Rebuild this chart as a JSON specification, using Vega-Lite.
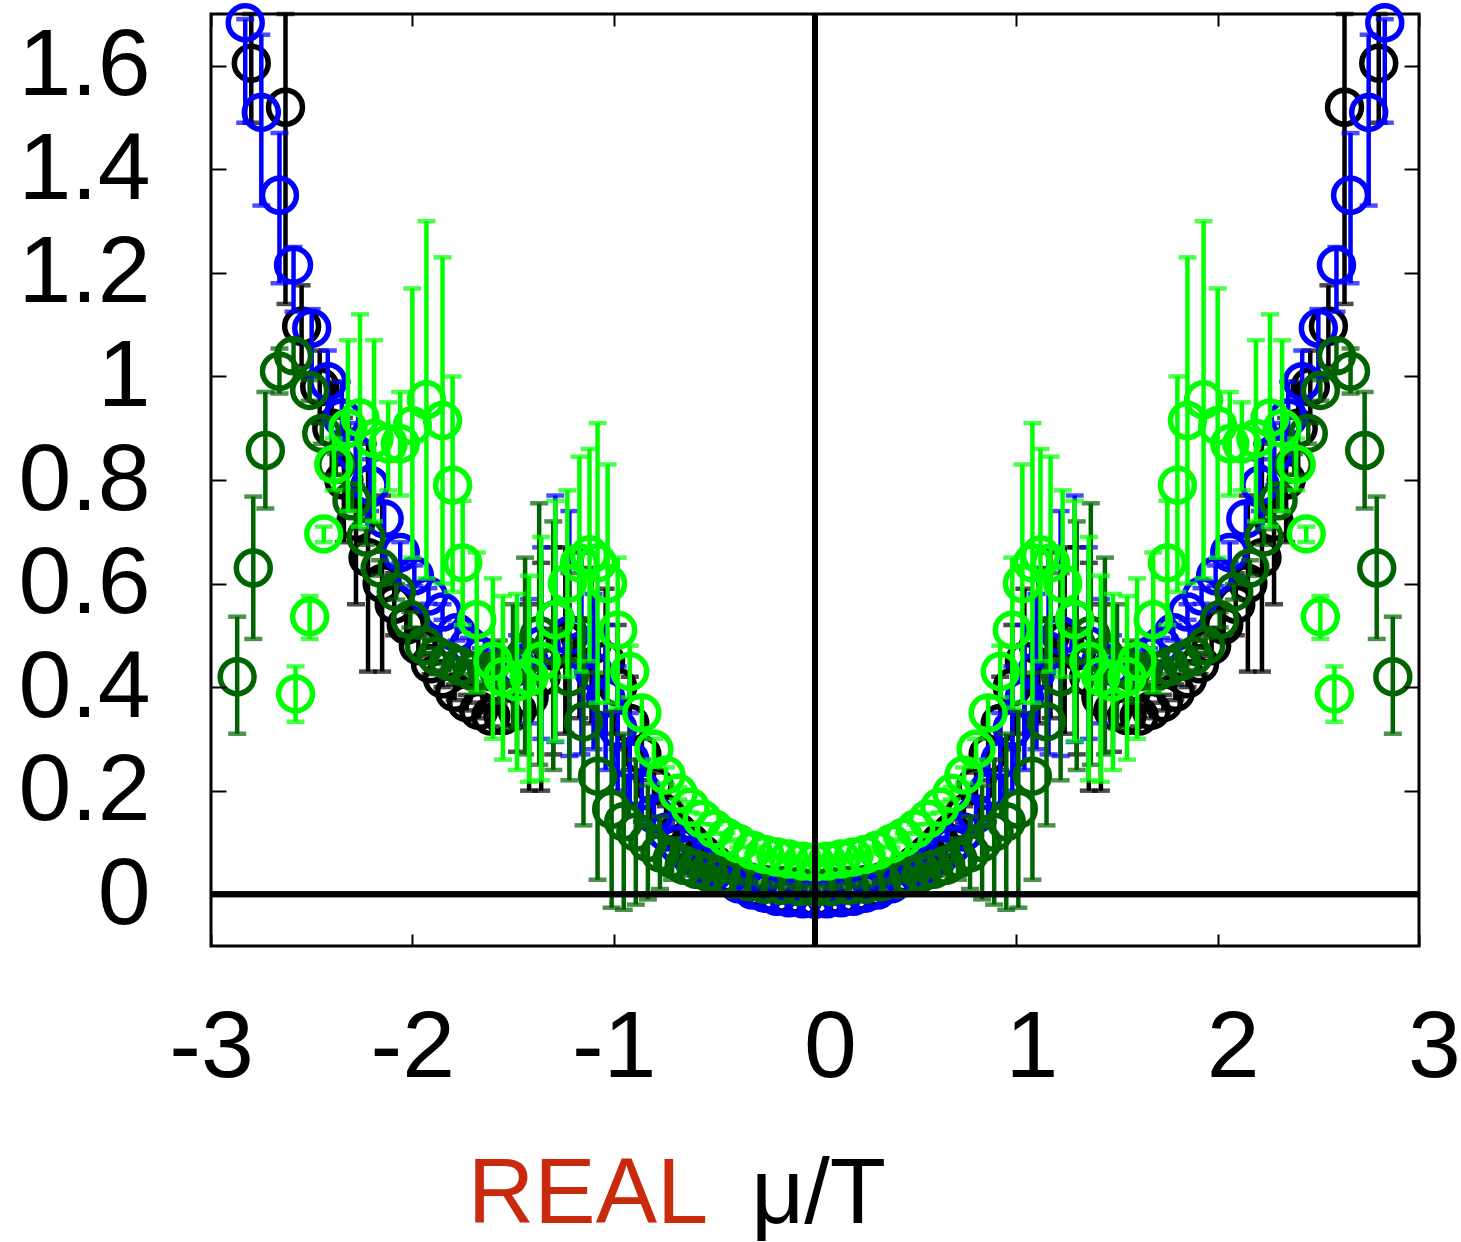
{
"$schema":"https://vega.github.io/schema/vega-lite/v6.json",
"width":1208,"height":932,"autosize":"none",
"padding":{"left":211,"top":14,"right":42,"bottom":296},
"background":"white",
"config":{"view":{"stroke":"#000000","strokeWidth":3},"font":"Liberation Sans"},
"datasets":{"d":[
{"s":"k","x":0,"y":-0.008,"lo":-0.01,"hi":-0.006},
{"s":"k","x":0.06,"y":-0.007,"lo":-0.009,"hi":-0.005},{"s":"k","x":-0.06,"y":-0.007,"lo":-0.009,"hi":-0.005},
{"s":"k","x":0.13,"y":-0.005,"lo":-0.007,"hi":-0.003},{"s":"k","x":-0.13,"y":-0.005,"lo":-0.007,"hi":-0.003},
{"s":"k","x":0.19,"y":-0.002,"lo":-0.004,"hi":0.0},{"s":"k","x":-0.19,"y":-0.002,"lo":-0.004,"hi":0.0},
{"s":"k","x":0.25,"y":0.003,"lo":0.001,"hi":0.005},{"s":"k","x":-0.25,"y":0.003,"lo":0.001,"hi":0.005},
{"s":"k","x":0.31,"y":0.012,"lo":0.009,"hi":0.015},{"s":"k","x":-0.31,"y":0.012,"lo":0.009,"hi":0.015},
{"s":"k","x":0.38,"y":0.025,"lo":0.021,"hi":0.029},{"s":"k","x":-0.38,"y":0.025,"lo":0.021,"hi":0.029},
{"s":"k","x":0.44,"y":0.04,"lo":0.035,"hi":0.045},{"s":"k","x":-0.44,"y":0.04,"lo":0.035,"hi":0.045},
{"s":"k","x":0.5,"y":0.058,"lo":0.052,"hi":0.064},{"s":"k","x":-0.5,"y":0.058,"lo":0.052,"hi":0.064},
{"s":"k","x":0.56,"y":0.078,"lo":0.071,"hi":0.085},{"s":"k","x":-0.56,"y":0.078,"lo":0.071,"hi":0.085},
{"s":"k","x":0.62,"y":0.1,"lo":0.093,"hi":0.107},{"s":"k","x":-0.62,"y":0.1,"lo":0.093,"hi":0.107},
{"s":"k","x":0.68,"y":0.12,"lo":0.11,"hi":0.13},{"s":"k","x":-0.68,"y":0.12,"lo":0.11,"hi":0.13},
{"s":"k","x":0.74,"y":0.155,"lo":0.14,"hi":0.17},{"s":"k","x":-0.74,"y":0.155,"lo":0.14,"hi":0.17},
{"s":"k","x":0.8,"y":0.21,"lo":0.185,"hi":0.235},{"s":"k","x":-0.8,"y":0.21,"lo":0.185,"hi":0.235},
{"s":"k","x":0.86,"y":0.27,"lo":0.22,"hi":0.32},{"s":"k","x":-0.86,"y":0.27,"lo":0.22,"hi":0.32},
{"s":"k","x":0.92,"y":0.33,"lo":0.24,"hi":0.42},{"s":"k","x":-0.92,"y":0.33,"lo":0.24,"hi":0.42},
{"s":"k","x":0.98,"y":0.4,"lo":0.28,"hi":0.52},{"s":"k","x":-0.98,"y":0.4,"lo":0.28,"hi":0.52},
{"s":"k","x":1.04,"y":0.45,"lo":0.31,"hi":0.59},{"s":"k","x":-1.04,"y":0.45,"lo":0.31,"hi":0.59},
{"s":"k","x":1.11,"y":0.48,"lo":0.33,"hi":0.63},{"s":"k","x":-1.11,"y":0.48,"lo":0.33,"hi":0.63},
{"s":"k","x":1.17,"y":0.5,"lo":0.34,"hi":0.66},{"s":"k","x":-1.17,"y":0.5,"lo":0.34,"hi":0.66},
{"s":"k","x":1.24,"y":0.49,"lo":0.31,"hi":0.67},{"s":"k","x":-1.24,"y":0.49,"lo":0.31,"hi":0.67},
{"s":"k","x":1.3,"y":0.47,"lo":0.27,"hi":0.67},{"s":"k","x":-1.3,"y":0.47,"lo":0.27,"hi":0.67},
{"s":"k","x":1.36,"y":0.42,"lo":0.2,"hi":0.64},{"s":"k","x":-1.36,"y":0.42,"lo":0.2,"hi":0.64},
{"s":"k","x":1.42,"y":0.38,"lo":0.2,"hi":0.56},{"s":"k","x":-1.42,"y":0.38,"lo":0.2,"hi":0.56},
{"s":"k","x":1.48,"y":0.355,"lo":0.275,"hi":0.435},{"s":"k","x":-1.48,"y":0.355,"lo":0.275,"hi":0.435},
{"s":"k","x":1.55,"y":0.345,"lo":0.315,"hi":0.375},{"s":"k","x":-1.55,"y":0.345,"lo":0.315,"hi":0.375},
{"s":"k","x":1.61,"y":0.344,"lo":0.324,"hi":0.364},{"s":"k","x":-1.61,"y":0.344,"lo":0.324,"hi":0.364},
{"s":"k","x":1.67,"y":0.355,"lo":0.34,"hi":0.37},{"s":"k","x":-1.67,"y":0.355,"lo":0.34,"hi":0.37},
{"s":"k","x":1.73,"y":0.37,"lo":0.355,"hi":0.385},{"s":"k","x":-1.73,"y":0.37,"lo":0.355,"hi":0.385},
{"s":"k","x":1.79,"y":0.39,"lo":0.375,"hi":0.405},{"s":"k","x":-1.79,"y":0.39,"lo":0.375,"hi":0.405},
{"s":"k","x":1.85,"y":0.416,"lo":0.4,"hi":0.432},{"s":"k","x":-1.85,"y":0.416,"lo":0.4,"hi":0.432},
{"s":"k","x":1.91,"y":0.445,"lo":0.425,"hi":0.465},{"s":"k","x":-1.91,"y":0.445,"lo":0.425,"hi":0.465},
{"s":"k","x":1.97,"y":0.48,"lo":0.46,"hi":0.5},{"s":"k","x":-1.97,"y":0.48,"lo":0.46,"hi":0.5},
{"s":"k","x":2.03,"y":0.52,"lo":0.49,"hi":0.55},{"s":"k","x":-2.03,"y":0.52,"lo":0.49,"hi":0.55},
{"s":"k","x":2.09,"y":0.56,"lo":0.5,"hi":0.62},{"s":"k","x":-2.09,"y":0.56,"lo":0.5,"hi":0.62},
{"s":"k","x":2.15,"y":0.6,"lo":0.43,"hi":0.77},{"s":"k","x":-2.15,"y":0.6,"lo":0.43,"hi":0.77},
{"s":"k","x":2.22,"y":0.65,"lo":0.43,"hi":0.87},{"s":"k","x":-2.22,"y":0.65,"lo":0.43,"hi":0.87},
{"s":"k","x":2.28,"y":0.72,"lo":0.56,"hi":0.88},{"s":"k","x":-2.28,"y":0.72,"lo":0.56,"hi":0.88},
{"s":"k","x":2.34,"y":0.8,"lo":0.68,"hi":0.92},{"s":"k","x":-2.34,"y":0.8,"lo":0.68,"hi":0.92},
{"s":"k","x":2.4,"y":0.9,"lo":0.81,"hi":0.99},{"s":"k","x":-2.4,"y":0.9,"lo":0.81,"hi":0.99},
{"s":"k","x":2.46,"y":0.98,"lo":0.91,"hi":1.05},{"s":"k","x":-2.46,"y":0.98,"lo":0.91,"hi":1.05},
{"s":"k","x":2.55,"y":1.097,"lo":1.02,"hi":1.176},{"s":"k","x":-2.55,"y":1.097,"lo":1.02,"hi":1.176},
{"s":"k","x":2.63,"y":1.52,"lo":1.14,"hi":1.7},{"s":"k","x":-2.63,"y":1.52,"lo":1.14,"hi":1.7},
{"s":"k","x":2.8,"y":1.605,"lo":1.49,"hi":1.7},{"s":"k","x":-2.8,"y":1.605,"lo":1.49,"hi":1.7},

{"s":"b","x":0,"y":-0.01,"lo":-0.012,"hi":-0.008},
{"s":"b","x":0.06,"y":-0.009,"lo":-0.011,"hi":-0.007},{"s":"b","x":-0.06,"y":-0.009,"lo":-0.011,"hi":-0.007},
{"s":"b","x":0.13,"y":-0.007,"lo":-0.009,"hi":-0.005},{"s":"b","x":-0.13,"y":-0.007,"lo":-0.009,"hi":-0.005},
{"s":"b","x":0.19,"y":-0.004,"lo":-0.006,"hi":-0.002},{"s":"b","x":-0.19,"y":-0.004,"lo":-0.006,"hi":-0.002},
{"s":"b","x":0.25,"y":0.002,"lo":0.0,"hi":0.004},{"s":"b","x":-0.25,"y":0.002,"lo":0.0,"hi":0.004},
{"s":"b","x":0.31,"y":0.008,"lo":0.005,"hi":0.011},{"s":"b","x":-0.31,"y":0.008,"lo":0.005,"hi":0.011},
{"s":"b","x":0.38,"y":0.02,"lo":0.017,"hi":0.023},{"s":"b","x":-0.38,"y":0.02,"lo":0.017,"hi":0.023},
{"s":"b","x":0.44,"y":0.032,"lo":0.028,"hi":0.036},{"s":"b","x":-0.44,"y":0.032,"lo":0.028,"hi":0.036},
{"s":"b","x":0.5,"y":0.044,"lo":0.04,"hi":0.048},{"s":"b","x":-0.5,"y":0.044,"lo":0.04,"hi":0.048},
{"s":"b","x":0.56,"y":0.06,"lo":0.055,"hi":0.065},{"s":"b","x":-0.56,"y":0.06,"lo":0.055,"hi":0.065},
{"s":"b","x":0.62,"y":0.075,"lo":0.07,"hi":0.08},{"s":"b","x":-0.62,"y":0.075,"lo":0.07,"hi":0.08},
{"s":"b","x":0.68,"y":0.095,"lo":0.087,"hi":0.103},{"s":"b","x":-0.68,"y":0.095,"lo":0.087,"hi":0.103},
{"s":"b","x":0.74,"y":0.12,"lo":0.108,"hi":0.132},{"s":"b","x":-0.74,"y":0.12,"lo":0.108,"hi":0.132},
{"s":"b","x":0.8,"y":0.155,"lo":0.125,"hi":0.185},{"s":"b","x":-0.8,"y":0.155,"lo":0.125,"hi":0.185},
{"s":"b","x":0.86,"y":0.2,"lo":0.14,"hi":0.26},{"s":"b","x":-0.86,"y":0.2,"lo":0.14,"hi":0.26},
{"s":"b","x":0.92,"y":0.26,"lo":0.17,"hi":0.35},{"s":"b","x":-0.92,"y":0.26,"lo":0.17,"hi":0.35},
{"s":"b","x":0.98,"y":0.32,"lo":0.2,"hi":0.44},{"s":"b","x":-0.98,"y":0.32,"lo":0.2,"hi":0.44},
{"s":"b","x":1.04,"y":0.38,"lo":0.24,"hi":0.52},{"s":"b","x":-1.04,"y":0.38,"lo":0.24,"hi":0.52},
{"s":"b","x":1.1,"y":0.43,"lo":0.28,"hi":0.58},{"s":"b","x":-1.1,"y":0.43,"lo":0.28,"hi":0.58},
{"s":"b","x":1.16,"y":0.47,"lo":0.27,"hi":0.67},{"s":"b","x":-1.16,"y":0.47,"lo":0.27,"hi":0.67},
{"s":"b","x":1.22,"y":0.5,"lo":0.267,"hi":0.74},{"s":"b","x":-1.22,"y":0.5,"lo":0.267,"hi":0.74},
{"s":"b","x":1.29,"y":0.53,"lo":0.294,"hi":0.77},{"s":"b","x":-1.29,"y":0.53,"lo":0.294,"hi":0.77},
{"s":"b","x":1.36,"y":0.48,"lo":0.3,"hi":0.67},{"s":"b","x":-1.36,"y":0.48,"lo":0.3,"hi":0.67},
{"s":"b","x":1.42,"y":0.45,"lo":0.33,"hi":0.57},{"s":"b","x":-1.42,"y":0.45,"lo":0.33,"hi":0.57},
{"s":"b","x":1.48,"y":0.44,"lo":0.38,"hi":0.5},{"s":"b","x":-1.48,"y":0.44,"lo":0.38,"hi":0.5},
{"s":"b","x":1.54,"y":0.44,"lo":0.41,"hi":0.47},{"s":"b","x":-1.54,"y":0.44,"lo":0.41,"hi":0.47},
{"s":"b","x":1.6,"y":0.45,"lo":0.43,"hi":0.47},{"s":"b","x":-1.6,"y":0.45,"lo":0.43,"hi":0.47},
{"s":"b","x":1.66,"y":0.46,"lo":0.445,"hi":0.475},{"s":"b","x":-1.66,"y":0.46,"lo":0.445,"hi":0.475},
{"s":"b","x":1.72,"y":0.48,"lo":0.465,"hi":0.495},{"s":"b","x":-1.72,"y":0.48,"lo":0.465,"hi":0.495},
{"s":"b","x":1.78,"y":0.505,"lo":0.49,"hi":0.52},{"s":"b","x":-1.78,"y":0.505,"lo":0.49,"hi":0.52},
{"s":"b","x":1.85,"y":0.545,"lo":0.53,"hi":0.56},{"s":"b","x":-1.85,"y":0.545,"lo":0.53,"hi":0.56},
{"s":"b","x":1.92,"y":0.576,"lo":0.561,"hi":0.591},{"s":"b","x":-1.92,"y":0.576,"lo":0.561,"hi":0.591},
{"s":"b","x":1.99,"y":0.615,"lo":0.595,"hi":0.635},{"s":"b","x":-1.99,"y":0.615,"lo":0.595,"hi":0.635},
{"s":"b","x":2.06,"y":0.66,"lo":0.64,"hi":0.68},{"s":"b","x":-2.06,"y":0.66,"lo":0.64,"hi":0.68},
{"s":"b","x":2.14,"y":0.725,"lo":0.695,"hi":0.755},{"s":"b","x":-2.14,"y":0.725,"lo":0.695,"hi":0.755},
{"s":"b","x":2.21,"y":0.79,"lo":0.74,"hi":0.84},{"s":"b","x":-2.21,"y":0.79,"lo":0.74,"hi":0.84},
{"s":"b","x":2.28,"y":0.85,"lo":0.79,"hi":0.91},{"s":"b","x":-2.28,"y":0.85,"lo":0.79,"hi":0.91},
{"s":"b","x":2.35,"y":0.92,"lo":0.85,"hi":0.99},{"s":"b","x":-2.35,"y":0.92,"lo":0.85,"hi":0.99},
{"s":"b","x":2.42,"y":0.99,"lo":0.92,"hi":1.05},{"s":"b","x":-2.42,"y":0.99,"lo":0.92,"hi":1.05},
{"s":"b","x":2.5,"y":1.093,"lo":1.0,"hi":1.13},{"s":"b","x":-2.5,"y":1.093,"lo":1.0,"hi":1.13},
{"s":"b","x":2.59,"y":1.215,"lo":1.125,"hi":1.25},{"s":"b","x":-2.59,"y":1.215,"lo":1.125,"hi":1.25},
{"s":"b","x":2.66,"y":1.35,"lo":1.18,"hi":1.47},{"s":"b","x":-2.66,"y":1.35,"lo":1.18,"hi":1.47},
{"s":"b","x":2.75,"y":1.51,"lo":1.33,"hi":1.66},{"s":"b","x":-2.75,"y":1.51,"lo":1.33,"hi":1.66},
{"s":"b","x":2.83,"y":1.683,"lo":1.49,"hi":1.69},{"s":"b","x":-2.83,"y":1.683,"lo":1.49,"hi":1.69},

{"s":"g","x":0,"y":0.013,"lo":0.01,"hi":0.016},
{"s":"g","x":0.08,"y":0.015,"lo":0.012,"hi":0.018},{"s":"g","x":-0.08,"y":0.015,"lo":0.012,"hi":0.018},
{"s":"g","x":0.17,"y":0.017,"lo":0.014,"hi":0.02},{"s":"g","x":-0.17,"y":0.017,"lo":0.014,"hi":0.02},
{"s":"g","x":0.25,"y":0.019,"lo":0.015,"hi":0.023},{"s":"g","x":-0.25,"y":0.019,"lo":0.015,"hi":0.023},
{"s":"g","x":0.33,"y":0.024,"lo":0.02,"hi":0.028},{"s":"g","x":-0.33,"y":0.024,"lo":0.02,"hi":0.028},
{"s":"g","x":0.41,"y":0.029,"lo":0.024,"hi":0.034},{"s":"g","x":-0.41,"y":0.029,"lo":0.024,"hi":0.034},
{"s":"g","x":0.47,"y":0.035,"lo":0.029,"hi":0.041},{"s":"g","x":-0.47,"y":0.035,"lo":0.029,"hi":0.041},
{"s":"g","x":0.53,"y":0.042,"lo":0.034,"hi":0.05},{"s":"g","x":-0.53,"y":0.042,"lo":0.034,"hi":0.05},
{"s":"g","x":0.59,"y":0.048,"lo":0.036,"hi":0.06},{"s":"g","x":-0.59,"y":0.048,"lo":0.036,"hi":0.06},
{"s":"g","x":0.65,"y":0.056,"lo":0.036,"hi":0.076},{"s":"g","x":-0.65,"y":0.056,"lo":0.036,"hi":0.076},
{"s":"g","x":0.71,"y":0.068,"lo":0.028,"hi":0.108},{"s":"g","x":-0.71,"y":0.068,"lo":0.028,"hi":0.108},
{"s":"g","x":0.77,"y":0.08,"lo":0.01,"hi":0.15},{"s":"g","x":-0.77,"y":0.08,"lo":0.01,"hi":0.15},
{"s":"g","x":0.83,"y":0.1,"lo":-0.01,"hi":0.21},{"s":"g","x":-0.83,"y":0.1,"lo":-0.01,"hi":0.21},
{"s":"g","x":0.89,"y":0.12,"lo":-0.02,"hi":0.26},{"s":"g","x":-0.89,"y":0.12,"lo":-0.02,"hi":0.26},
{"s":"g","x":0.95,"y":0.14,"lo":-0.03,"hi":0.31},{"s":"g","x":-0.95,"y":0.14,"lo":-0.03,"hi":0.31},
{"s":"g","x":1.01,"y":0.164,"lo":-0.026,"hi":0.354},{"s":"g","x":-1.01,"y":0.164,"lo":-0.026,"hi":0.354},
{"s":"g","x":1.08,"y":0.228,"lo":0.028,"hi":0.428},{"s":"g","x":-1.08,"y":0.228,"lo":0.028,"hi":0.428},
{"s":"g","x":1.15,"y":0.333,"lo":0.133,"hi":0.533},{"s":"g","x":-1.15,"y":0.333,"lo":0.133,"hi":0.533},
{"s":"g","x":1.22,"y":0.42,"lo":0.22,"hi":0.62},{"s":"g","x":-1.22,"y":0.42,"lo":0.22,"hi":0.62},
{"s":"g","x":1.3,"y":0.48,"lo":0.24,"hi":0.72},{"s":"g","x":-1.3,"y":0.48,"lo":0.24,"hi":0.72},
{"s":"g","x":1.37,"y":0.5,"lo":0.25,"hi":0.755},{"s":"g","x":-1.37,"y":0.5,"lo":0.25,"hi":0.755},
{"s":"g","x":1.44,"y":0.46,"lo":0.27,"hi":0.65},{"s":"g","x":-1.44,"y":0.46,"lo":0.27,"hi":0.65},
{"s":"g","x":1.5,"y":0.44,"lo":0.32,"hi":0.56},{"s":"g","x":-1.5,"y":0.44,"lo":0.32,"hi":0.56},
{"s":"g","x":1.57,"y":0.43,"lo":0.37,"hi":0.49},{"s":"g","x":-1.57,"y":0.43,"lo":0.37,"hi":0.49},
{"s":"g","x":1.63,"y":0.43,"lo":0.4,"hi":0.46},{"s":"g","x":-1.63,"y":0.43,"lo":0.4,"hi":0.46},
{"s":"g","x":1.7,"y":0.43,"lo":0.41,"hi":0.45},{"s":"g","x":-1.7,"y":0.43,"lo":0.41,"hi":0.45},
{"s":"g","x":1.76,"y":0.44,"lo":0.425,"hi":0.455},{"s":"g","x":-1.76,"y":0.44,"lo":0.425,"hi":0.455},
{"s":"g","x":1.82,"y":0.45,"lo":0.435,"hi":0.465},{"s":"g","x":-1.82,"y":0.45,"lo":0.435,"hi":0.465},
{"s":"g","x":1.88,"y":0.46,"lo":0.445,"hi":0.475},{"s":"g","x":-1.88,"y":0.46,"lo":0.445,"hi":0.475},
{"s":"g","x":1.94,"y":0.48,"lo":0.465,"hi":0.495},{"s":"g","x":-1.94,"y":0.48,"lo":0.465,"hi":0.495},
{"s":"g","x":2.01,"y":0.53,"lo":0.515,"hi":0.545},{"s":"g","x":-2.01,"y":0.53,"lo":0.515,"hi":0.545},
{"s":"g","x":2.08,"y":0.584,"lo":0.569,"hi":0.599},{"s":"g","x":-2.08,"y":0.584,"lo":0.569,"hi":0.599},
{"s":"g","x":2.16,"y":0.63,"lo":0.615,"hi":0.645},{"s":"g","x":-2.16,"y":0.63,"lo":0.615,"hi":0.645},
{"s":"g","x":2.23,"y":0.69,"lo":0.675,"hi":0.705},{"s":"g","x":-2.23,"y":0.69,"lo":0.675,"hi":0.705},
{"s":"g","x":2.3,"y":0.76,"lo":0.74,"hi":0.78},{"s":"g","x":-2.3,"y":0.76,"lo":0.74,"hi":0.78},
{"s":"g","x":2.38,"y":0.83,"lo":0.81,"hi":0.85},{"s":"g","x":-2.38,"y":0.83,"lo":0.81,"hi":0.85},
{"s":"g","x":2.45,"y":0.89,"lo":0.87,"hi":0.91},{"s":"g","x":-2.45,"y":0.89,"lo":0.87,"hi":0.91},
{"s":"g","x":2.51,"y":0.973,"lo":0.953,"hi":0.993},{"s":"g","x":-2.51,"y":0.973,"lo":0.953,"hi":0.993},
{"s":"g","x":2.59,"y":1.04,"lo":1.01,"hi":1.07},{"s":"g","x":-2.59,"y":1.04,"lo":1.01,"hi":1.07},
{"s":"g","x":2.66,"y":1.01,"lo":0.967,"hi":1.054},{"s":"g","x":-2.66,"y":1.01,"lo":0.967,"hi":1.054},
{"s":"g","x":2.73,"y":0.857,"lo":0.745,"hi":0.97},{"s":"g","x":-2.73,"y":0.857,"lo":0.745,"hi":0.97},
{"s":"g","x":2.79,"y":0.63,"lo":0.493,"hi":0.768},{"s":"g","x":-2.79,"y":0.63,"lo":0.493,"hi":0.768},
{"s":"g","x":2.87,"y":0.42,"lo":0.31,"hi":0.536},{"s":"g","x":-2.87,"y":0.42,"lo":0.31,"hi":0.536},

{"s":"l","x":0,"y":0.062,"lo":0.056,"hi":0.068},
{"s":"l","x":0.06,"y":0.064,"lo":0.058,"hi":0.07},{"s":"l","x":-0.06,"y":0.064,"lo":0.058,"hi":0.07},
{"s":"l","x":0.13,"y":0.068,"lo":0.062,"hi":0.074},{"s":"l","x":-0.13,"y":0.068,"lo":0.062,"hi":0.074},
{"s":"l","x":0.19,"y":0.072,"lo":0.066,"hi":0.078},{"s":"l","x":-0.19,"y":0.072,"lo":0.066,"hi":0.078},
{"s":"l","x":0.25,"y":0.077,"lo":0.07,"hi":0.084},{"s":"l","x":-0.25,"y":0.077,"lo":0.07,"hi":0.084},
{"s":"l","x":0.31,"y":0.085,"lo":0.078,"hi":0.092},{"s":"l","x":-0.31,"y":0.085,"lo":0.078,"hi":0.092},
{"s":"l","x":0.38,"y":0.098,"lo":0.09,"hi":0.106},{"s":"l","x":-0.38,"y":0.098,"lo":0.09,"hi":0.106},
{"s":"l","x":0.44,"y":0.11,"lo":0.102,"hi":0.118},{"s":"l","x":-0.44,"y":0.11,"lo":0.102,"hi":0.118},
{"s":"l","x":0.5,"y":0.126,"lo":0.117,"hi":0.135},{"s":"l","x":-0.5,"y":0.126,"lo":0.117,"hi":0.135},
{"s":"l","x":0.56,"y":0.145,"lo":0.135,"hi":0.155},{"s":"l","x":-0.56,"y":0.145,"lo":0.135,"hi":0.155},
{"s":"l","x":0.62,"y":0.168,"lo":0.158,"hi":0.178},{"s":"l","x":-0.62,"y":0.168,"lo":0.158,"hi":0.178},
{"s":"l","x":0.68,"y":0.195,"lo":0.183,"hi":0.207},{"s":"l","x":-0.68,"y":0.195,"lo":0.183,"hi":0.207},
{"s":"l","x":0.74,"y":0.23,"lo":0.215,"hi":0.245},{"s":"l","x":-0.74,"y":0.23,"lo":0.215,"hi":0.245},
{"s":"l","x":0.8,"y":0.28,"lo":0.26,"hi":0.3},{"s":"l","x":-0.8,"y":0.28,"lo":0.26,"hi":0.3},
{"s":"l","x":0.86,"y":0.35,"lo":0.32,"hi":0.38},{"s":"l","x":-0.86,"y":0.35,"lo":0.32,"hi":0.38},
{"s":"l","x":0.92,"y":0.43,"lo":0.38,"hi":0.48},{"s":"l","x":-0.92,"y":0.43,"lo":0.38,"hi":0.48},
{"s":"l","x":0.98,"y":0.51,"lo":0.36,"hi":0.65},{"s":"l","x":-0.98,"y":0.51,"lo":0.36,"hi":0.65},
{"s":"l","x":1.03,"y":0.6,"lo":0.37,"hi":0.83},{"s":"l","x":-1.03,"y":0.6,"lo":0.37,"hi":0.83},
{"s":"l","x":1.08,"y":0.64,"lo":0.37,"hi":0.91},{"s":"l","x":-1.08,"y":0.64,"lo":0.37,"hi":0.91},
{"s":"l","x":1.12,"y":0.655,"lo":0.45,"hi":0.86},{"s":"l","x":-1.12,"y":0.655,"lo":0.45,"hi":0.86},
{"s":"l","x":1.17,"y":0.64,"lo":0.43,"hi":0.845},{"s":"l","x":-1.17,"y":0.64,"lo":0.43,"hi":0.845},
{"s":"l","x":1.23,"y":0.6,"lo":0.42,"hi":0.78},{"s":"l","x":-1.23,"y":0.6,"lo":0.42,"hi":0.78},
{"s":"l","x":1.29,"y":0.53,"lo":0.296,"hi":0.76},{"s":"l","x":-1.29,"y":0.53,"lo":0.296,"hi":0.76},
{"s":"l","x":1.36,"y":0.45,"lo":0.22,"hi":0.69},{"s":"l","x":-1.36,"y":0.45,"lo":0.22,"hi":0.69},
{"s":"l","x":1.42,"y":0.42,"lo":0.217,"hi":0.615},{"s":"l","x":-1.42,"y":0.42,"lo":0.217,"hi":0.615},
{"s":"l","x":1.48,"y":0.41,"lo":0.24,"hi":0.58},{"s":"l","x":-1.48,"y":0.41,"lo":0.24,"hi":0.58},
{"s":"l","x":1.55,"y":0.42,"lo":0.26,"hi":0.576},{"s":"l","x":-1.55,"y":0.42,"lo":0.26,"hi":0.576},
{"s":"l","x":1.6,"y":0.45,"lo":0.3,"hi":0.61},{"s":"l","x":-1.6,"y":0.45,"lo":0.3,"hi":0.61},
{"s":"l","x":1.68,"y":0.53,"lo":0.39,"hi":0.66},{"s":"l","x":-1.68,"y":0.53,"lo":0.39,"hi":0.66},
{"s":"l","x":1.75,"y":0.64,"lo":0.52,"hi":0.76},{"s":"l","x":-1.75,"y":0.64,"lo":0.52,"hi":0.76},
{"s":"l","x":1.8,"y":0.79,"lo":0.584,"hi":1.0},{"s":"l","x":-1.8,"y":0.79,"lo":0.584,"hi":1.0},
{"s":"l","x":1.85,"y":0.915,"lo":0.6,"hi":1.23},{"s":"l","x":-1.85,"y":0.915,"lo":0.6,"hi":1.23},
{"s":"l","x":1.93,"y":0.955,"lo":0.61,"hi":1.3},{"s":"l","x":-1.93,"y":0.955,"lo":0.61,"hi":1.3},
{"s":"l","x":2.0,"y":0.905,"lo":0.65,"hi":1.17},{"s":"l","x":-2.0,"y":0.905,"lo":0.65,"hi":1.17},
{"s":"l","x":2.06,"y":0.87,"lo":0.77,"hi":0.97},{"s":"l","x":-2.06,"y":0.87,"lo":0.77,"hi":0.97},
{"s":"l","x":2.12,"y":0.87,"lo":0.78,"hi":0.95},{"s":"l","x":-2.12,"y":0.87,"lo":0.78,"hi":0.95},
{"s":"l","x":2.19,"y":0.88,"lo":0.72,"hi":1.07},{"s":"l","x":-2.19,"y":0.88,"lo":0.72,"hi":1.07},
{"s":"l","x":2.26,"y":0.92,"lo":0.71,"hi":1.12},{"s":"l","x":-2.26,"y":0.92,"lo":0.71,"hi":1.12},
{"s":"l","x":2.32,"y":0.9,"lo":0.74,"hi":1.07},{"s":"l","x":-2.32,"y":0.9,"lo":0.74,"hi":1.07},
{"s":"l","x":2.39,"y":0.83,"lo":0.78,"hi":0.88},{"s":"l","x":-2.39,"y":0.83,"lo":0.78,"hi":0.88},
{"s":"l","x":2.44,"y":0.696,"lo":0.68,"hi":0.71},{"s":"l","x":-2.44,"y":0.696,"lo":0.68,"hi":0.71},
{"s":"l","x":2.51,"y":0.536,"lo":0.493,"hi":0.576},{"s":"l","x":-2.51,"y":0.536,"lo":0.493,"hi":0.576},
{"s":"l","x":2.58,"y":0.387,"lo":0.333,"hi":0.44},{"s":"l","x":-2.58,"y":0.387,"lo":0.333,"hi":0.44}
]},
"data":{"name":"d"},
"layer":[
{"transform":[{"filter":"datum.s==='k'"}],"layer":[
 {"mark":{"type":"rule","color":"#000000","strokeWidth":4.5},"encoding":{"x":{"field":"x","type":"quantitative","scale":{"domain":[-3,3],"nice":false,"zero":false},"axis":null},"y":{"field":"lo","type":"quantitative","scale":{"domain":[-0.1,1.7],"nice":false,"zero":false},"axis":null},"y2":{"field":"hi"}}},
 {"mark":{"type":"tick","orient":"horizontal","color":"#000000","size":18,"thickness":4.5},"encoding":{"x":{"field":"x","type":"quantitative","axis":null},"y":{"field":"lo","type":"quantitative","axis":null}}},
 {"mark":{"type":"tick","orient":"horizontal","color":"#000000","size":18,"thickness":4.5},"encoding":{"x":{"field":"x","type":"quantitative","axis":null},"y":{"field":"hi","type":"quantitative","axis":null}}},
 {"mark":{"type":"point","shape":"circle","filled":false,"color":"#000000","size":1150,"strokeWidth":5.5,"opacity":1},"encoding":{"x":{"field":"x","type":"quantitative","axis":null},"y":{"field":"y","type":"quantitative","axis":null}}}
]},
{"transform":[{"filter":"datum.s==='b'"}],"layer":[
 {"mark":{"type":"rule","color":"#0000ff","strokeWidth":4.5},"encoding":{"x":{"field":"x","type":"quantitative","axis":null},"y":{"field":"lo","type":"quantitative","axis":null},"y2":{"field":"hi"}}},
 {"mark":{"type":"tick","orient":"horizontal","color":"#0000ff","size":18,"thickness":4.5},"encoding":{"x":{"field":"x","type":"quantitative","axis":null},"y":{"field":"lo","type":"quantitative","axis":null}}},
 {"mark":{"type":"tick","orient":"horizontal","color":"#0000ff","size":18,"thickness":4.5},"encoding":{"x":{"field":"x","type":"quantitative","axis":null},"y":{"field":"hi","type":"quantitative","axis":null}}},
 {"mark":{"type":"point","shape":"circle","filled":false,"color":"#0000ff","size":1150,"strokeWidth":5.5,"opacity":1},"encoding":{"x":{"field":"x","type":"quantitative","axis":null},"y":{"field":"y","type":"quantitative","axis":null}}}
]},
{"transform":[{"filter":"datum.s==='g'"}],"layer":[
 {"mark":{"type":"rule","color":"#006400","strokeWidth":4.5},"encoding":{"x":{"field":"x","type":"quantitative","axis":null},"y":{"field":"lo","type":"quantitative","axis":null},"y2":{"field":"hi"}}},
 {"mark":{"type":"tick","orient":"horizontal","color":"#006400","size":18,"thickness":4.5},"encoding":{"x":{"field":"x","type":"quantitative","axis":null},"y":{"field":"lo","type":"quantitative","axis":null}}},
 {"mark":{"type":"tick","orient":"horizontal","color":"#006400","size":18,"thickness":4.5},"encoding":{"x":{"field":"x","type":"quantitative","axis":null},"y":{"field":"hi","type":"quantitative","axis":null}}},
 {"mark":{"type":"point","shape":"circle","filled":false,"color":"#006400","size":1150,"strokeWidth":5.5,"opacity":1},"encoding":{"x":{"field":"x","type":"quantitative","axis":null},"y":{"field":"y","type":"quantitative","axis":null}}}
]},
{"transform":[{"filter":"datum.s==='l'"}],"layer":[
 {"mark":{"type":"rule","color":"#00ff00","strokeWidth":4.5},"encoding":{"x":{"field":"x","type":"quantitative","axis":null},"y":{"field":"lo","type":"quantitative","axis":null},"y2":{"field":"hi"}}},
 {"mark":{"type":"tick","orient":"horizontal","color":"#00ff00","size":18,"thickness":4.5},"encoding":{"x":{"field":"x","type":"quantitative","axis":null},"y":{"field":"lo","type":"quantitative","axis":null}}},
 {"mark":{"type":"tick","orient":"horizontal","color":"#00ff00","size":18,"thickness":4.5},"encoding":{"x":{"field":"x","type":"quantitative","axis":null},"y":{"field":"hi","type":"quantitative","axis":null}}},
 {"mark":{"type":"point","shape":"circle","filled":false,"color":"#00ff00","size":1150,"strokeWidth":5.5,"opacity":1},"encoding":{"x":{"field":"x","type":"quantitative","axis":null},"y":{"field":"y","type":"quantitative","axis":null}}}
]},
{"data":{"values":[{}]},"mark":{"type":"rule","color":"#000000","strokeWidth":6},
 "encoding":{"y":{"datum":0,"type":"quantitative","axis":{"orient":"left","values":[0,0.2,0.4,0.6,0.8,1,1.2,1.4,1.6],"labelExpr":"datum.value + ''","tickSize":-15,"tickWidth":2,"tickColor":"#000000","labelFont":"Liberation Sans","labelFontSize":95,"labelColor":"#000000","labelPadding":76,"labelFlush":false,"domain":false,"grid":false,"title":null,"zindex":1}}}},
{"data":{"values":[{}]},"mark":{"type":"rule","color":"#000000","strokeWidth":6},
 "encoding":{"x":{"datum":0,"type":"quantitative","axis":{"orient":"bottom","values":[-3,-2,-1,0,1,2,3],"labelExpr":"datum.value + ''","tickSize":-12,"tickWidth":2,"tickColor":"#000000","labelFont":"Liberation Sans","labelFontSize":95,"labelColor":"#000000","labelPadding":142,"labelBaseline":"alphabetic","labelFlush":false,"labelOffset":{"condition":{"test":"datum.value >= 0","value":15},"value":0},"domain":false,"grid":false,"title":"μ/T","titleFont":"Liberation Sans","titleFontSize":92,"titleFontWeight":"normal","titleColor":"#000000","titleX":607,"titleY":276,"titleAlign":"center","titleBaseline":"alphabetic","zindex":1}}}},
{"data":{"values":[{}]},"mark":{"type":"rule","color":"#000000","strokeWidth":6},
 "encoding":{"y":{"datum":0,"type":"quantitative","axis":{"orient":"right","values":[0,0.2,0.4,0.6,0.8,1,1.2,1.4,1.6],"tickSize":-15,"tickWidth":2,"tickColor":"#000000","labels":false,"domain":false,"grid":false,"title":null,"zindex":1}}}},
{"data":{"values":[{}]},"mark":{"type":"rule","color":"#000000","strokeWidth":6},
 "encoding":{"x":{"datum":0,"type":"quantitative","axis":{"orient":"top","values":[-3,-2,-1,0,1,2,3],"tickSize":-12,"tickWidth":2,"tickColor":"#000000","labels":false,"domain":false,"grid":false,"title":"REAL","titleFont":"Liberation Sans","titleFontSize":92,"titleFontWeight":"normal","titleColor":"#c92a0e","titleX":376.5,"titleY":1208,"titleAlign":"center","titleBaseline":"alphabetic","zindex":1}}}}
],
"resolve":{"axis":{"x":"independent","y":"independent"}}
}
